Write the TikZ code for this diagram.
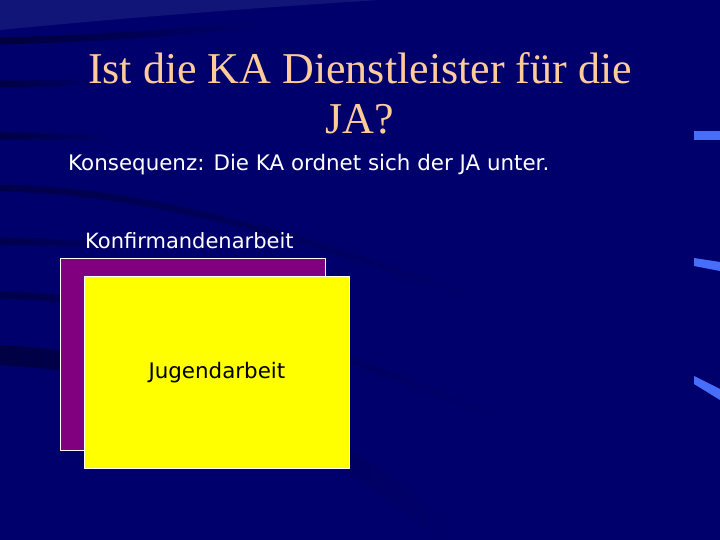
\documentclass[tikz,border=0pt]{standalone}
\usepackage{fontspec}
\setmainfont{Liberation Serif}
\newfontfamily\verd{DejaVu Sans}
\usepackage{tikz}
\usetikzlibrary{positioning,fadings}
\definecolor{slideblue}{RGB}{0,0,108}
\definecolor{streakblue}{RGB}{0,0,40}
\definecolor{glowblue}{RGB}{25,30,125}
\definecolor{barblue}{RGB}{70,110,250}
\definecolor{titlepeach}{RGB}{255,204,153}
\definecolor{kapurple}{RGB}{128,0,128}
\definecolor{jayellow}{RGB}{255,255,0}

\begin{document}
\begin{tikzpicture}[line cap=round,line join=round,x=1pt,y=-1pt,
  streak/.style={streakblue,line width=7pt,opacity=0.7,path fading=east},
  titletext/.style={text=titlepeach,font=\fontsize{44}{49}\selectfont,inner sep=0pt},
  bodytext/.style={text=white,font=\verd\fontsize{21.4}{26}\selectfont,inner sep=0pt},
  areabox/.style={draw=white,line width=0.8pt,minimum width=265pt,minimum height=192pt,inner sep=0pt}]
\useasboundingbox (0,0) rectangle (720,540);
\fill [slideblue] (0,0) rectangle (720,540);
% background streaks
\fill [glowblue,opacity=0.7] (0,0) -- (380,0) .. controls (250,8) and (100,20) .. (0,30) -- cycle;
\draw [streak] (0,41) .. controls (120,38) and (200,30) .. (260,24);
\draw [streak,opacity=0.6] (0,84) .. controls (40,84) and (70,83) .. (95,82);
\draw [streak,opacity=0.6] (0,136) .. controls (40,136) and (80,137) .. (110,138);
\draw [streak,opacity=0.5] (0,188) .. controls (120,190) and (260,220) .. (480,300);
\draw [streak,opacity=0.5] (0,241) .. controls (60,242) and (100,245) .. (140,248);
\draw [streak,opacity=0.5] (0,295) .. controls (150,300) and (300,330) .. (500,420);
\draw [streak,line width=20pt,opacity=0.6] (0,355) .. controls (130,362) and (300,400) .. (440,530);
% blue bars on the right
\fill [barblue] (694,131) -- (720,131) -- (720,140) -- (694,140) -- cycle;
\fill [barblue] (694,258) -- (720,262) -- (720,271) -- (694,266) -- cycle;
\fill [barblue] (694,376) -- (720,389) -- (720,400) -- (694,384) -- cycle;
% texts
\node [titletext,anchor=base] (title) at (360,84) {Ist die KA Dienstleister für die};
\node [titletext,anchor=base] (titleb) at (360,134) {JA?};
\node [bodytext,anchor=base west] (consequence) at (68,171) {Konsequenz: Die KA ordnet sich der JA unter.};
\node [bodytext,font=\verd\fontsize{21}{25}\selectfont,anchor=base west] (kalabel) at (85,248) {Konfirmandenarbeit};
% boxes
\node [areabox,fill=kapurple,anchor=north west] (ka) at (60,258) {};
\node [areabox,fill=jayellow,anchor=north west] (ja) at (84,276) {};
\node [bodytext,text=black] (jalabel) at (ja.center) {Jugendarbeit};
\end{tikzpicture}
\end{document}
